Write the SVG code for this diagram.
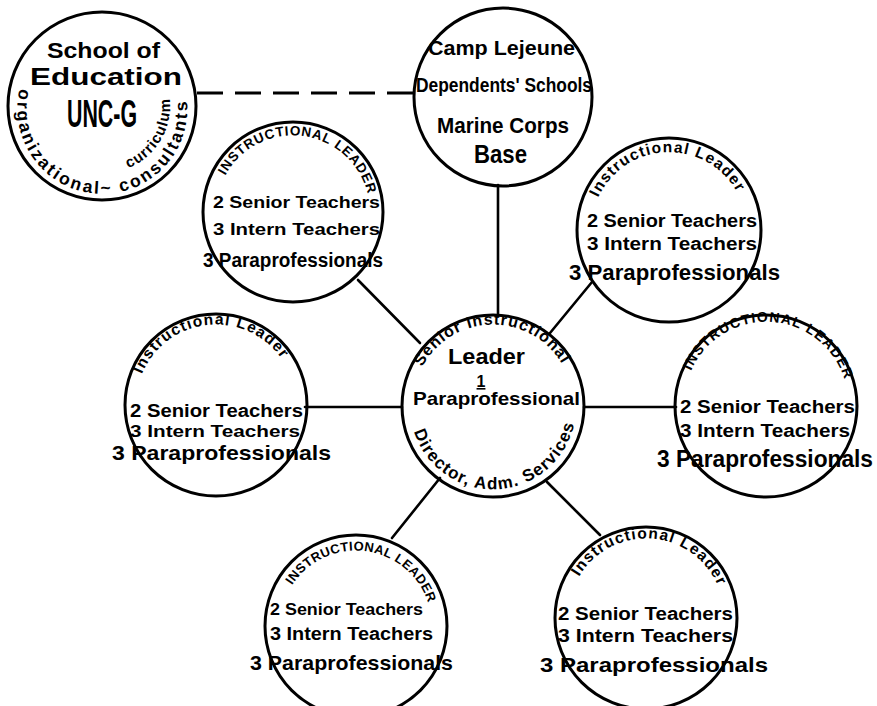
<svg xmlns="http://www.w3.org/2000/svg" xmlns:xlink="http://www.w3.org/1999/xlink" width="877" height="706" viewBox="0 0 877 706">
<style>
.c{fill:none;stroke:#000;stroke-width:3}
.ln{fill:none;stroke:#000;stroke-width:2.6;stroke-linecap:round}
.dash{fill:none;stroke:#000;stroke-width:3;stroke-dasharray:26 12}
.t{font-family:"Liberation Sans",Arial,sans-serif;font-weight:bold;fill:#000}
.a{font-family:"Liberation Sans",Arial,sans-serif;font-weight:bold;fill:#000}
</style>
<defs>
<path id="pSchool" d="M19.8,88.5 A85,85 0 1 0 186.7,98.7"/>
<path id="pCurr" d="M120.5,170.5 A66,66 0 0 0 167.9,90"/>
<path id="pUL" d="M217.2,198.6 A77,77 0 0 1 369.7,218.7"/>
<path id="pUR" d="M591,230 A78,78 0 0 1 746.8,224.6"/>
<path id="pL" d="M136,407.8 A80,80 0 0 1 294.8,391.1"/>
<path id="pR" d="M684.3,398.8 A82,82 0 0 1 848,408.9"/>
<path id="pBL" d="M281.2,612.8 A76,76 0 0 1 431.7,632.6"/>
<path id="pBR" d="M568.4,609.8 A78,78 0 0 1 724,620.7"/>
<path id="pCtop" d="M413,406 A80,80 0 0 1 573,403.2"/>
<path id="pCbot" d="M410.3,413.2 A83,83 0 0 0 576,404.6"/>
</defs>
<rect width="877" height="706" fill="#fff"/>

<g id="connectors">
<line class="dash" x1="197" y1="93" x2="413" y2="93"/>
<line class="ln" x1="498" y1="185" x2="498" y2="316"/>
<line class="ln" x1="358" y1="280" x2="420" y2="343"/>
<line class="ln" x1="592" y1="282" x2="550" y2="333"/>
<line class="ln" x1="305" y1="407" x2="402" y2="407"/>
<line class="ln" x1="584" y1="407" x2="676" y2="407"/>
<line class="ln" x1="440" y1="478" x2="392" y2="538"/>
<line class="ln" x1="547" y1="482" x2="600" y2="535"/>
</g>

<g id="school">
<circle class="c" cx="102" cy="106" r="94"/>
<text class="t" x="47" y="58" font-size="22" textLength="113" lengthAdjust="spacingAndGlyphs">School of</text>
<text class="t" x="30" y="85" font-size="23" textLength="152" lengthAdjust="spacingAndGlyphs">Education</text>
<text class="t" x="67" y="127" font-size="39" textLength="70" lengthAdjust="spacingAndGlyphs">UNC-G</text>
<text class="a" font-size="17.5" letter-spacing="2.4"><textPath href="#pSchool" xlink:href="#pSchool" startOffset="50%" text-anchor="middle">organizational~ consultants</textPath></text>
<text class="a" font-size="15" letter-spacing="1"><textPath href="#pCurr" xlink:href="#pCurr" startOffset="50%" text-anchor="middle">curriculum</textPath></text>
</g>

<g id="camp">
<circle class="c" cx="503" cy="97" r="89"/>
<text class="t" x="428" y="55" font-size="21" textLength="147" lengthAdjust="spacingAndGlyphs">Camp Lejeune</text>
<text class="t" x="416" y="92" font-size="20" textLength="176" lengthAdjust="spacingAndGlyphs">Dependents' Schools</text>
<text class="t" x="437" y="133" font-size="22" textLength="132" lengthAdjust="spacingAndGlyphs">Marine Corps</text>
<text class="t" x="474" y="163" font-size="26" textLength="53" lengthAdjust="spacingAndGlyphs">Base</text>
</g>

<g id="il-upper-left">
<circle class="c" cx="293" cy="212" r="90"/>
<text class="a" font-size="13.5" letter-spacing="0.8"><textPath href="#pUL" xlink:href="#pUL" startOffset="50%" text-anchor="middle">INSTRUCTIONAL LEADER</textPath></text>
<text class="t" x="213" y="208" font-size="17" textLength="167" lengthAdjust="spacingAndGlyphs">2 Senior Teachers</text>
<text class="t" x="213" y="235" font-size="17" textLength="167" lengthAdjust="spacingAndGlyphs">3 Intern Teachers</text>
<text class="t" x="203" y="267" font-size="20" textLength="180" lengthAdjust="spacingAndGlyphs">3 Paraprofessionals</text>
</g>

<g id="il-upper-right">
<circle class="c" cx="669" cy="230" r="92"/>
<text class="a" font-size="15.5" letter-spacing="1.2"><textPath href="#pUR" xlink:href="#pUR" startOffset="50%" text-anchor="middle">Instructional Leader</textPath></text>
<text class="t" x="587" y="227" font-size="18" textLength="170" lengthAdjust="spacingAndGlyphs">2 Senior Teachers</text>
<text class="t" x="587" y="250" font-size="18" textLength="170" lengthAdjust="spacingAndGlyphs">3 Intern Teachers</text>
<text class="t" x="569" y="280" font-size="22" textLength="211" lengthAdjust="spacingAndGlyphs">3 Paraprofessionals</text>
</g>

<g id="il-left">
<circle class="c" cx="216" cy="405" r="91"/>
<text class="a" font-size="15.5" letter-spacing="1.2"><textPath href="#pL" xlink:href="#pL" startOffset="50%" text-anchor="middle">Instructional Leader</textPath></text>
<text class="t" x="130" y="417" font-size="18" textLength="173" lengthAdjust="spacingAndGlyphs">2 Senior Teachers</text>
<text class="t" x="130" y="437" font-size="17" textLength="170" lengthAdjust="spacingAndGlyphs">3 Intern Teachers</text>
<text class="t" x="112" y="460" font-size="21" textLength="219" lengthAdjust="spacingAndGlyphs">3 Paraprofessionals</text>
</g>

<g id="il-right">
<circle class="c" cx="766" cy="406" r="91"/>
<text class="a" font-size="14" letter-spacing="1.2"><textPath href="#pR" xlink:href="#pR" startOffset="50%" text-anchor="middle">INSTRUCTIONAL LEADER</textPath></text>
<text class="t" x="680" y="413" font-size="18" textLength="175" lengthAdjust="spacingAndGlyphs">2 Senior Teachers</text>
<text class="t" x="680" y="437" font-size="18" textLength="170" lengthAdjust="spacingAndGlyphs">3 Intern Teachers</text>
<text class="t" x="657" y="467" font-size="23" textLength="216" lengthAdjust="spacingAndGlyphs">3 Paraprofessionals</text>
</g>

<g id="center">
<circle class="c" cx="493" cy="406" r="91"/>
<text class="a" font-size="16" letter-spacing="1"><textPath href="#pCtop" xlink:href="#pCtop" startOffset="50%" text-anchor="middle">Senior Instructional</textPath></text>
<text class="t" x="448" y="364" font-size="22" textLength="77" lengthAdjust="spacingAndGlyphs">Leader</text>
<text class="t" x="481" y="387" font-size="16" text-anchor="middle" text-decoration="underline">1</text>
<text class="t" x="413" y="405" font-size="19" textLength="167" lengthAdjust="spacingAndGlyphs">Paraprofessional</text>
<text class="a" font-size="17" letter-spacing="1.2"><textPath href="#pCbot" xlink:href="#pCbot" startOffset="50%" text-anchor="middle">Director, Adm. Services</textPath></text>
</g>

<g id="il-bottom-left">
<circle class="c" cx="356" cy="626" r="91"/>
<text class="a" font-size="13" letter-spacing="0.4"><textPath href="#pBL" xlink:href="#pBL" startOffset="50%" text-anchor="middle">INSTRUCTIONAL LEADER</textPath></text>
<text class="t" x="270" y="615" font-size="17" textLength="153" lengthAdjust="spacingAndGlyphs">2 Senior Teachers</text>
<text class="t" x="270" y="640" font-size="18" textLength="163" lengthAdjust="spacingAndGlyphs">3 Intern Teachers</text>
<text class="t" x="250" y="670" font-size="21" textLength="203" lengthAdjust="spacingAndGlyphs">3 Paraprofessionals</text>
</g>

<g id="il-bottom-right">
<circle class="c" cx="646" cy="618" r="91"/>
<text class="a" font-size="15.5" letter-spacing="1.2"><textPath href="#pBR" xlink:href="#pBR" startOffset="50%" text-anchor="middle">Instructional Leader</textPath></text>
<text class="t" x="558" y="620" font-size="18" textLength="175" lengthAdjust="spacingAndGlyphs">2 Senior Teachers</text>
<text class="t" x="558" y="642" font-size="18" textLength="175" lengthAdjust="spacingAndGlyphs">3 Intern Teachers</text>
<text class="t" x="540" y="672" font-size="21" textLength="228" lengthAdjust="spacingAndGlyphs">3 Paraprofessionals</text>
</g>
</svg>
